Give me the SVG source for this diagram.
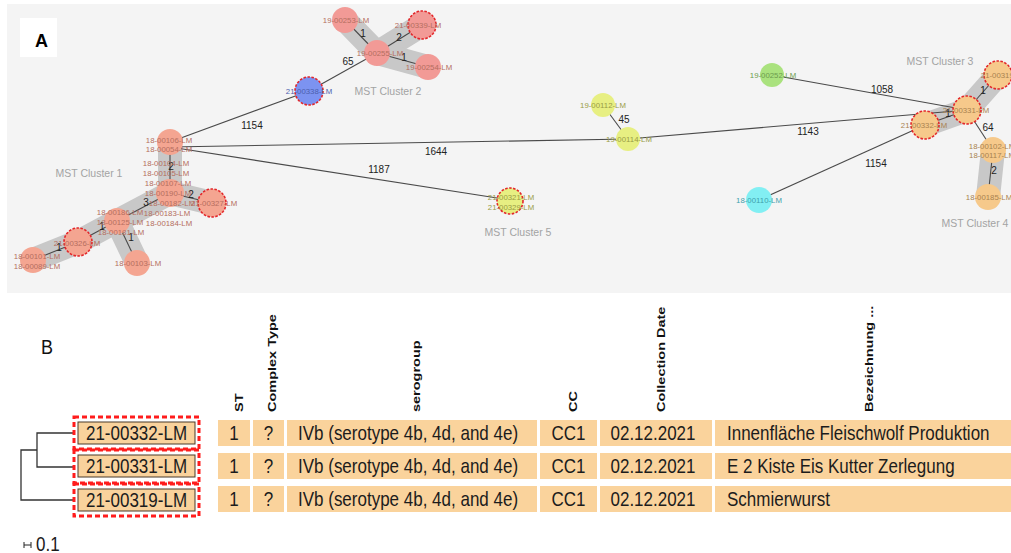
<svg xmlns="http://www.w3.org/2000/svg" width="1011" height="553" viewBox="0 0 1011 553">
<style>
text{font-family:"Liberation Sans",Arial,sans-serif}
.band{stroke:#c8c8c8;stroke-width:24;stroke-linecap:round;fill:none}
.e{stroke:#4a4a4a;stroke-width:1.1;fill:none}
.el{font-size:10px;fill:#222;text-anchor:middle}
.cl{font-size:10.5px;fill:#a3a3a3;text-anchor:middle}
.nl{font-size:7.8px;text-anchor:middle}
.sal{fill:#f4a591}.pnk{fill:#f29a96}.org{fill:#f6c98b}.yel{fill:#e7ef82}.grn{fill:#aae27e}.cyn{fill:#82eff3}.blu{fill:#7c93f1}
.rd{stroke:#e3262a;stroke-width:1.6;stroke-dasharray:2.5 1.5}
.tsal{fill:#b46e60}.torg{fill:#a98250}.tyel{fill:#9a9c45}.tgrn{fill:#6c9c4e}.tcyn{fill:#3f9fad}.tblu{fill:#4d5fae}
.cell{fill:#fad39c}
.ct{font-size:17px;fill:#1c1c1c}
.hdr{font-size:11.7px;font-weight:bold;fill:#111}
.tree{stroke:#333;stroke-width:1.3;fill:none}
.lab{fill:#f9d29c;stroke:#4a3a2a;stroke-width:1}
.lo{fill:none;stroke:#ff1c1c;stroke-width:3;stroke-dasharray:5 3}
</style>
<rect x="7" y="4" width="1004" height="289" fill="#f4f4f4"/>
<g id="labelA"><rect x="20" y="18" width="37" height="39" fill="#ffffff"/><text x="41.5" y="47" font-size="18" font-weight="bold" text-anchor="middle" fill="#000">A</text></g>

<g id="bands">
<line class="band" x1="170" y1="142" x2="170" y2="193"/>
<line class="band" x1="170" y1="193" x2="212" y2="203"/>
<line class="band" x1="170" y1="193" x2="117" y2="221"/>
<line class="band" x1="117" y1="221" x2="78" y2="242"/>
<line class="band" x1="78" y1="242" x2="33" y2="260"/>
<line class="band" x1="117" y1="221" x2="137" y2="263"/>
<line class="band" x1="345" y1="20" x2="377" y2="53"/>
<line class="band" x1="377" y1="53" x2="422" y2="25"/>
<line class="band" x1="377" y1="53" x2="428" y2="67"/>
<line class="band" x1="925" y1="125" x2="967" y2="110"/>
<line class="band" x1="967" y1="110" x2="998" y2="75"/>
<line class="band" x1="993" y1="150" x2="988" y2="197"/>
</g>

<g id="connectors">
<line class="e" x1="170" y1="142" x2="170" y2="193"/>
<line class="e" x1="170" y1="193" x2="212" y2="203"/>
<line class="e" x1="170" y1="193" x2="117" y2="221"/>
<line class="e" x1="117" y1="221" x2="78" y2="242"/>
<line class="e" x1="78" y1="242" x2="33" y2="260"/>
<line class="e" x1="117" y1="221" x2="137" y2="263"/>
<line class="e" x1="345" y1="20" x2="377" y2="53"/>
<line class="e" x1="377" y1="53" x2="422" y2="25"/>
<line class="e" x1="377" y1="53" x2="428" y2="67"/>
<line class="e" x1="309" y1="91" x2="377" y2="53"/>
<line class="e" x1="309" y1="91" x2="170" y2="142"/>
<line class="e" x1="170" y1="147" x2="628" y2="139"/>
<line class="e" x1="170" y1="147" x2="510" y2="200"/>
<line class="e" x1="603" y1="105" x2="628" y2="139"/>
<line class="e" x1="628" y1="139" x2="967" y2="110"/>
<line class="e" x1="772" y1="75" x2="967" y2="110"/>
<line class="e" x1="759" y1="200" x2="925" y2="125"/>
<line class="e" x1="925" y1="125" x2="967" y2="110"/>
<line class="e" x1="967" y1="110" x2="998" y2="75"/>
<line class="e" x1="967" y1="110" x2="993" y2="150"/>
<line class="e" x1="993" y1="150" x2="988" y2="197"/>
<text class="el" x="171" y="170">2</text>
<text class="el" x="191" y="198">2</text>
<text class="el" x="146" y="206">3</text>
<text class="el" x="102" y="230">1</text>
<text class="el" x="59" y="251">1</text>
<text class="el" x="131" y="241">1</text>
<text class="el" x="363" y="37">1</text>
<text class="el" x="399" y="41">2</text>
<text class="el" x="404" y="61">1</text>
<text class="el" x="348" y="65">65</text>
<text class="el" x="252" y="129">1154</text>
<text class="el" x="436" y="155">1644</text>
<text class="el" x="379" y="173">1187</text>
<text class="el" x="624" y="123">45</text>
<text class="el" x="808" y="135">1143</text>
<text class="el" x="882" y="93">1058</text>
<text class="el" x="876" y="167">1154</text>
<text class="el" x="983" y="94">1</text>
<text class="el" x="948" y="117">1</text>
<text class="el" x="988" y="131">64</text>
<text class="el" x="994" y="174">2</text>
</g>

<g id="cluster-labels">
<text class="cl" x="89" y="177">MST Cluster 1</text>
<text class="cl" x="388" y="95">MST Cluster 2</text>
<text class="cl" x="940" y="65">MST Cluster 3</text>
<text class="cl" x="975" y="227">MST Cluster 4</text>
<text class="cl" x="518" y="236">MST Cluster 5</text>
</g>

<g id="n-18-00106"><circle class="sal" cx="170" cy="142" r="13"/><text class="nl tsal" x="169" y="143">18-00106-LM</text><text class="nl tsal" x="169" y="152">18-00054-LM</text></g>
<g id="n-18-00107"><circle class="sal" cx="170" cy="193" r="14"/>
<text class="nl tsal" x="166" y="166">18-00104-LM</text><text class="nl tsal" x="166" y="176">18-00105-LM</text><text class="nl tsal" x="168" y="186">18-00107-LM</text><text class="nl tsal" x="168" y="196">18-00190-LM</text><text class="nl tsal" x="172" y="206">18-00182-LM</text><text class="nl tsal" x="167" y="216">18-00183-LM</text><text class="nl tsal" x="169" y="226">18-00184-LM</text></g>
<g id="n-21-00327"><circle class="sal rd" cx="212" cy="203" r="14"/><text class="nl tsal" x="214" y="206">21-00327-LM</text></g>
<g id="n-18-00125"><circle class="sal" cx="117" cy="221" r="13"/><text class="nl tsal" x="120" y="215">18-00186-LM</text><text class="nl tsal" x="120" y="225">18-00125-LM</text><text class="nl tsal" x="121" y="235">18-00181-LM</text></g>
<g id="n-21-00326"><circle class="sal rd" cx="78" cy="242" r="14"/><text class="nl tsal" x="77" y="246">21-00326-LM</text></g>
<g id="n-18-00101"><circle class="sal" cx="33" cy="260" r="13"/><text class="nl tsal" x="37" y="259">18-00101-LM</text><text class="nl tsal" x="37" y="269">18-00089-LM</text></g>
<g id="n-18-00103"><circle class="sal" cx="137" cy="263" r="13"/><text class="nl tsal" x="138" y="266">18-00103-LM</text></g>

<g id="n-19-00253"><circle class="pnk" cx="345" cy="20" r="13"/><text class="nl tsal" x="346" y="23">19-00253-LM</text></g>
<g id="n-21-00339"><circle class="pnk rd" cx="422" cy="25" r="14"/><text class="nl tsal" x="418" y="28">21-00339-LM</text></g>
<g id="n-19-00255"><circle class="pnk" cx="377" cy="53" r="13"/><text class="nl tsal" x="380" y="56">19-00255-LM</text></g>
<g id="n-19-00254"><circle class="pnk" cx="428" cy="67" r="13"/><text class="nl tsal" x="429" y="70">19-00254-LM</text></g>
<g id="n-21-00338"><circle class="blu rd" cx="309" cy="91" r="14"/><text class="nl tblu" x="309" y="94">21-00338-LM</text></g>

<g id="n-19-00112"><circle class="yel" cx="603" cy="105" r="12"/><text class="nl tyel" x="603" y="108">19-00112-LM</text></g>
<g id="n-19-00114"><circle class="yel" cx="628" cy="139" r="12"/><text class="nl tyel" x="629" y="142">19-00114-LM</text></g>
<g id="n-21-00321"><circle class="yel rd" cx="510" cy="201" r="13"/><text class="nl tyel" x="511" y="200">21-00321-LM</text><text class="nl tyel" x="511" y="210">21-00329-LM</text></g>

<g id="n-19-00252"><circle class="grn" cx="772" cy="75" r="12"/><text class="nl tgrn" x="773" y="78">19-00252-LM</text></g>
<g id="n-18-00110"><circle class="cyn" cx="759" cy="200" r="13"/><text class="nl tcyn" x="759" y="203">18-00110-LM</text></g>
<g id="n-21-00319"><circle class="org rd" cx="998" cy="75" r="14"/><text class="nl torg" x="1004" y="78">21-00319-LM</text></g>
<g id="n-21-00331"><circle class="org rd" cx="967" cy="110" r="14"/><text class="nl torg" x="966" y="113">21-00331-LM</text></g>
<g id="n-21-00332"><circle class="org rd" cx="925" cy="125" r="14"/><text class="nl torg" x="924" y="128">21-00332-LM</text></g>
<g id="n-18-00102"><circle class="org" cx="993" cy="150" r="13"/><text class="nl torg" x="992" y="149">18-00102-LM</text><text class="nl torg" x="992" y="158">18-00117-LM</text></g>
<g id="n-18-00185"><circle class="org" cx="988" cy="197" r="13"/><text class="nl torg" x="989" y="200">18-00185-LM</text></g>

<g id="panelB">
<text font-size="18" fill="#111" transform="translate(41,354) scale(1,1.15)">B</text>
<g id="headers">
<text class="hdr" transform="translate(243,412) rotate(-90) scale(1.24,1)">ST</text>
<text class="hdr" transform="translate(275.5,412) rotate(-90) scale(1.24,1)">Complex Type</text>
<text class="hdr" transform="translate(419.5,412) rotate(-90) scale(1.24,1)">serogroup</text>
<text class="hdr" transform="translate(577,412) rotate(-90) scale(1.24,1)">CC</text>
<text class="hdr" transform="translate(665,412) rotate(-90) scale(1.24,1)">Collection Date</text>
<text class="hdr" transform="translate(872.5,412) rotate(-90) scale(1.24,1)">Bezeichnung ...</text>
</g>
<g id="tree">
<path class="tree" d="M73,433 H37 V467 H73 M37,450 H21 V500 H73"/>
</g>
<g id="tips">
<rect class="lo" x="74" y="417" width="125" height="32"/>
<rect class="lo" x="74" y="450" width="125" height="33"/>
<rect class="lo" x="74" y="484" width="125" height="32"/>
<rect class="lab" x="78" y="422" width="117" height="22"/>
<rect class="lab" x="78" y="455" width="117" height="22"/>
<rect class="lab" x="78" y="489" width="117" height="22"/>
<text class="ct" text-anchor="middle" transform="translate(136.5,440) scale(1,1.2)">21-00332-LM</text>
<text class="ct" text-anchor="middle" transform="translate(136.5,473) scale(1,1.2)">21-00331-LM</text>
<text class="ct" text-anchor="middle" transform="translate(136.5,507) scale(1,1.2)">21-00319-LM</text>
</g>
<g id="table">
<rect class="cell" x="218" y="420" width="32" height="26"/><rect class="cell" x="253" y="420" width="31" height="26"/><rect class="cell" x="287" y="420" width="250" height="26"/><rect class="cell" x="540" y="420" width="57" height="26"/><rect class="cell" x="600" y="420" width="112" height="26"/><rect class="cell" x="715" y="420" width="296" height="26"/>
<rect class="cell" x="218" y="453" width="32" height="26"/><rect class="cell" x="253" y="453" width="31" height="26"/><rect class="cell" x="287" y="453" width="250" height="26"/><rect class="cell" x="540" y="453" width="57" height="26"/><rect class="cell" x="600" y="453" width="112" height="26"/><rect class="cell" x="715" y="453" width="296" height="26"/>
<rect class="cell" x="218" y="486" width="32" height="26"/><rect class="cell" x="253" y="486" width="31" height="26"/><rect class="cell" x="287" y="486" width="250" height="26"/><rect class="cell" x="540" y="486" width="57" height="26"/><rect class="cell" x="600" y="486" width="112" height="26"/><rect class="cell" x="715" y="486" width="296" height="26"/>
<text class="ct" text-anchor="middle" transform="translate(234,440) scale(1,1.2)">1</text>
<text class="ct" text-anchor="middle" transform="translate(268.5,440) scale(1,1.2)">?</text>
<text class="ct" transform="translate(298,440) scale(1,1.2)">IVb (serotype 4b, 4d, and 4e)</text>
<text class="ct" text-anchor="middle" transform="translate(568.5,440) scale(1,1.2)">CC1</text>
<text class="ct" text-anchor="middle" transform="translate(653,440) scale(1,1.2)">02.12.2021</text>
<text class="ct" transform="translate(727,440) scale(1,1.2)">Innenfläche Fleischwolf Produktion</text>
<text class="ct" text-anchor="middle" transform="translate(234,473) scale(1,1.2)">1</text>
<text class="ct" text-anchor="middle" transform="translate(268.5,473) scale(1,1.2)">?</text>
<text class="ct" transform="translate(298,473) scale(1,1.2)">IVb (serotype 4b, 4d, and 4e)</text>
<text class="ct" text-anchor="middle" transform="translate(568.5,473) scale(1,1.2)">CC1</text>
<text class="ct" text-anchor="middle" transform="translate(653,473) scale(1,1.2)">02.12.2021</text>
<text class="ct" transform="translate(727,473) scale(1,1.2)">E 2 Kiste Eis Kutter Zerlegung</text>
<text class="ct" text-anchor="middle" transform="translate(234,506) scale(1,1.2)">1</text>
<text class="ct" text-anchor="middle" transform="translate(268.5,506) scale(1,1.2)">?</text>
<text class="ct" transform="translate(298,506) scale(1,1.2)">IVb (serotype 4b, 4d, and 4e)</text>
<text class="ct" text-anchor="middle" transform="translate(568.5,506) scale(1,1.2)">CC1</text>
<text class="ct" text-anchor="middle" transform="translate(653,506) scale(1,1.2)">02.12.2021</text>
<text class="ct" transform="translate(727,506) scale(1,1.2)">Schmierwurst</text>
</g>
<g id="scale">
<path d="M24,545 H31 M24,542 V548 M31,542 V548" stroke="#222" stroke-width="1" fill="none"/>
<text class="ct" transform="translate(36,551) scale(1,1.2)">0.1</text>
</g>
</g>
</svg>
